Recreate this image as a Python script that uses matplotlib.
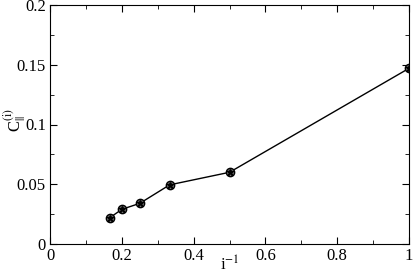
import matplotlib
matplotlib.use('Agg')
import matplotlib.pyplot as plt
from matplotlib.ticker import MultipleLocator

plt.rcParams['font.family'] = ['Liberation Serif', 'DejaVu Serif']
plt.rcParams['mathtext.fontset'] = 'stix'

# data
inv_i = [1/6, 1/5, 1/4, 1/3, 1/2, 1.0]
c_par = [0.022, 0.029, 0.034, 0.0495, 0.060, 0.147]

x_ticks = [0, 0.2, 0.4, 0.6, 0.8, 1.0]
x_labels = ['0', '0.2', '0.4', '0.6', '0.8', '1']
y_ticks = [0, 0.05, 0.1, 0.15, 0.2]
y_labels = ['0', '0.05', '0.1', '0.15', '0.2']

fig = plt.figure(figsize=(4.15, 2.77), dpi=100)
ax = fig.add_axes([50/415, 1 - 244/277, 359/415, 239/277])

ax.plot(inv_i, c_par, color='black', lw=1.0)
ax.plot(inv_i, c_par, 'o', ms=6, mfc='#777777', mec='black', mew=1.0, ls='none')
ax.plot(inv_i, c_par, '*', ms=5, color='black', ls='none')

ax.set_xlim(0, 1)
ax.set_ylim(0, 0.2)
ax.set_xticks(x_ticks)
ax.set_xticklabels(x_labels)
ax.set_yticks(y_ticks)
ax.set_yticklabels(y_labels)
ax.xaxis.set_minor_locator(MultipleLocator(0.1))
ax.yaxis.set_minor_locator(MultipleLocator(0.025))
ax.tick_params(which='both', direction='in', top=True, right=True, labelsize=12)
ax.tick_params(which='major', length=5)
ax.tick_params(which='minor', length=3)
ax.tick_params(axis='x', pad=3)
ax.tick_params(axis='y', pad=3)

ax.set_xlabel(r'i$^{-1}$', fontsize=12)
ax.xaxis.set_label_coords(0.5, -0.05)
ax.set_ylabel(r'C$_{||}^{\mathrm{(i)}}$', fontsize=12, va='center')
ax.yaxis.set_label_coords(-0.1, 0.52)

fig.savefig('out.png', dpi=100)
